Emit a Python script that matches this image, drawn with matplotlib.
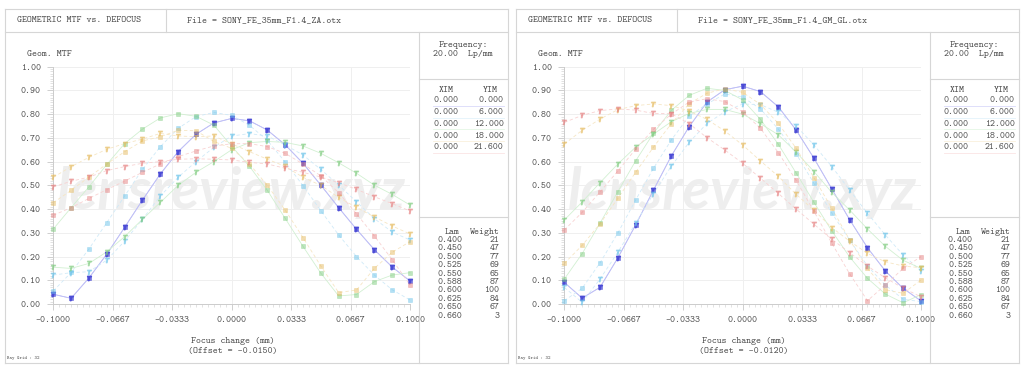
import numpy as np
import matplotlib
matplotlib.use("Agg")
import matplotlib.pyplot as plt
from matplotlib.lines import Line2D
from matplotlib.ticker import FixedLocator, AutoMinorLocator

# ---------------- data ----------------
focus = [-0.10, -0.09, -0.08, -0.07, -0.06, -0.05, -0.04, -0.03, -0.02, -0.01, 0.00,
         0.01, 0.02, 0.03, 0.04, 0.05, 0.06, 0.07, 0.08, 0.09, 0.10]
x_tick_labels = ['-0.1000', '-0.0667', '-0.0333', '0.0000', '0.0333', '0.0667', '0.1000']
y_tick_labels = ['0.00', '0.10', '0.20', '0.30', '0.40', '0.50', '0.60', '0.70', '0.80', '0.90', '1.00']

xim = ['0.000', '0.000', '0.000', '0.000', '0.000']
yim = ['0.000', '6.000', '12.000', '18.000', '21.600']
lam = ['0.400', '0.450', '0.500', '0.525', '0.550', '0.588', '0.600', '0.625', '0.650', '0.660']
weight = ['21', '47', '77', '69', '65', '87', '100', '84', '67', '3']

# ZA lens (left)
za_f1_t = [0.041, 0.024, 0.110, 0.210, 0.323, 0.438, 0.548, 0.642, 0.715, 0.763, 0.782, 0.772, 0.733, 0.671, 0.593, 0.501, 0.406, 0.315, 0.229, 0.156, 0.097]
za_f1_s = [0.041, 0.024, 0.110, 0.210, 0.323, 0.438, 0.548, 0.642, 0.715, 0.763, 0.782, 0.772, 0.733, 0.671, 0.593, 0.501, 0.406, 0.315, 0.229, 0.156, 0.097]
za_f2_t = [0.122, 0.132, 0.136, 0.185, 0.265, 0.357, 0.455, 0.534, 0.600, 0.660, 0.708, 0.718, 0.708, 0.670, 0.628, 0.567, 0.501, 0.431, 0.360, 0.303, 0.270]
za_f2_s = [0.055, 0.133, 0.232, 0.343, 0.455, 0.567, 0.663, 0.740, 0.790, 0.807, 0.795, 0.753, 0.690, 0.598, 0.499, 0.393, 0.291, 0.200, 0.122, 0.060, 0.017]
za_f3_t = [0.155, 0.150, 0.171, 0.220, 0.284, 0.357, 0.428, 0.500, 0.555, 0.600, 0.650, 0.680, 0.685, 0.681, 0.666, 0.635, 0.595, 0.551, 0.501, 0.462, 0.417]
za_f3_s = [0.316, 0.406, 0.494, 0.588, 0.676, 0.737, 0.784, 0.802, 0.791, 0.754, 0.665, 0.580, 0.479, 0.361, 0.243, 0.130, 0.034, 0.040, 0.094, 0.122, 0.132]
za_f4_t = [0.534, 0.579, 0.618, 0.652, 0.676, 0.695, 0.719, 0.708, 0.705, 0.708, 0.675, 0.642, 0.610, 0.580, 0.534, 0.500, 0.449, 0.407, 0.367, 0.329, 0.295]
za_f4_s = [0.427, 0.479, 0.535, 0.590, 0.642, 0.687, 0.705, 0.732, 0.730, 0.685, 0.656, 0.590, 0.500, 0.396, 0.280, 0.160, 0.048, 0.059, 0.150, 0.218, 0.263]
za_f5_t = [0.494, 0.517, 0.535, 0.562, 0.579, 0.593, 0.600, 0.610, 0.612, 0.610, 0.607, 0.597, 0.590, 0.572, 0.555, 0.535, 0.511, 0.483, 0.452, 0.423, 0.392]
za_f5_s = [0.374, 0.406, 0.445, 0.482, 0.518, 0.555, 0.590, 0.621, 0.645, 0.666, 0.675, 0.676, 0.663, 0.635, 0.590, 0.540, 0.469, 0.380, 0.287, 0.187, 0.080]

# GM lens (right)
gm_f1_t = [0.091, 0.025, 0.070, 0.194, 0.333, 0.480, 0.624, 0.747, 0.851, 0.903, 0.918, 0.895, 0.831, 0.733, 0.614, 0.485, 0.355, 0.237, 0.139, 0.066, 0.013]
gm_f1_s = [0.091, 0.025, 0.070, 0.194, 0.333, 0.480, 0.624, 0.747, 0.851, 0.903, 0.918, 0.895, 0.831, 0.733, 0.614, 0.485, 0.355, 0.237, 0.139, 0.066, 0.013]
gm_f2_t = [0.070, 0.007, 0.105, 0.218, 0.340, 0.465, 0.581, 0.681, 0.761, 0.810, 0.843, 0.840, 0.808, 0.750, 0.670, 0.579, 0.480, 0.382, 0.291, 0.206, 0.139]
gm_f2_s = [0.014, 0.066, 0.173, 0.299, 0.438, 0.572, 0.691, 0.792, 0.843, 0.885, 0.872, 0.822, 0.737, 0.633, 0.508, 0.383, 0.270, 0.160, 0.080, 0.020, 0.010]
gm_f3_t = [0.354, 0.430, 0.511, 0.590, 0.661, 0.716, 0.768, 0.803, 0.820, 0.820, 0.800, 0.760, 0.713, 0.640, 0.558, 0.470, 0.396, 0.316, 0.243, 0.184, 0.150]
gm_f3_s = [0.105, 0.212, 0.340, 0.473, 0.603, 0.720, 0.816, 0.879, 0.909, 0.900, 0.860, 0.778, 0.673, 0.552, 0.428, 0.308, 0.198, 0.108, 0.042, 0.005, 0.040]
gm_f4_t = [0.674, 0.732, 0.779, 0.819, 0.836, 0.843, 0.836, 0.813, 0.778, 0.729, 0.670, 0.603, 0.538, 0.462, 0.395, 0.322, 0.265, 0.213, 0.178, 0.160, 0.153]
gm_f4_s = [0.171, 0.247, 0.338, 0.445, 0.555, 0.661, 0.760, 0.844, 0.888, 0.907, 0.892, 0.841, 0.761, 0.656, 0.532, 0.403, 0.270, 0.150, 0.060, 0.045, 0.101]
gm_f5_t = [0.765, 0.795, 0.815, 0.822, 0.817, 0.803, 0.802, 0.760, 0.701, 0.649, 0.593, 0.530, 0.466, 0.400, 0.336, 0.273, 0.216, 0.160, 0.110, 0.067, 0.030]
gm_f5_s = [0.312, 0.386, 0.472, 0.560, 0.653, 0.736, 0.800, 0.851, 0.865, 0.853, 0.810, 0.740, 0.638, 0.521, 0.390, 0.256, 0.127, 0.014, 0.080, 0.150, 0.200]

panels = [
    dict(dx=0, file='File = SONY_FE_35mm_F1.4_ZA.otx', offset='(Offset = -0.0150)',
         t=[za_f1_t, za_f2_t, za_f3_t, za_f4_t, za_f5_t],
         s=[za_f1_s, za_f2_s, za_f3_s, za_f4_s, za_f5_s]),
    dict(dx=511, file='File = SONY_FE_35mm_F1.4_GM_GL.otx', offset='(Offset = -0.0120)',
         t=[gm_f1_t, gm_f2_t, gm_f3_t, gm_f4_t, gm_f5_t],
         s=[gm_f1_s, gm_f2_s, gm_f3_s, gm_f4_s, gm_f5_s]),
]

# ---------------- style ----------------
marker_colors = ['#4a4ad6', '#6cc4ea', '#80cc80', '#e6bc62', '#e68282']
marker_alpha = [0.9, 0.6, 0.6, 0.6, 0.6]
line_colors = ['#c0c0f6', '#d0eaf8', '#d2f0d2', '#f6e6c4', '#f8d2d2']
t_styles = ['-', (0, (4, 3)), '-', (0, (4, 3)), (0, (4, 3))]
s_styles = ['-', (0, (4, 3)), '-', (0, (4, 3)), (0, (4, 3))]

W, H = 1024, 366
fig = plt.figure(figsize=(W / 100, H / 100), dpi=100)
fig.patch.set_facecolor('white')

MONO = 'cmtt10'
TXT = '#4a4a4a'
FRAME = '#d6d6d6'
FS = 6.8


def fx(x):
    return x / W


def fy(y):
    return 1 - y / H


def seg(x0, y0, x1, y1, c=FRAME, lw=0.8, alpha=1.0):
    fig.add_artist(Line2D([fx(x0), fx(x1)], [fy(y0), fy(y1)], color=c, lw=lw, alpha=alpha,
                          transform=fig.transFigure))


def txt(x, y, s, ha='left', size=FS, **kw):
    fig.text(fx(x), fy(y), s, ha=ha, va='center', fontsize=size, family=MONO, color=TXT, **kw)


for p in panels:
    dx = p['dx']
    L, R, T, B = 4.5 + dx, 507.5 + dx, 8.5, 363.0
    seg(L, T, R, T)
    seg(L, B, R, B)
    seg(L, T, L, B)
    seg(R, T, R, B)
    seg(L, 31.5, R, 31.5)
    seg(165.5 + dx, T, 165.5 + dx, 31.5)
    seg(418.5 + dx, 31.5, 418.5 + dx, B)
    seg(418.5 + dx, 78.5, R, 78.5)
    seg(418.5 + dx, 217.0, R, 217.0)

    txt(17 + dx, 20, 'GEOMETRIC MTF vs. DEFOCUS')
    txt(187 + dx, 20, p['file'])
    txt(27 + dx, 54, 'Geom. MTF')
    txt(463 + dx, 45, 'Frequency:', ha='center')
    txt(463 + dx, 54.5, '20.00  Lp/mm', ha='center')

    txt(446.5 + dx, 89.5, 'XIM', ha='center')
    txt(490 + dx, 89.5, 'YIM', ha='center')
    for i, (a, b) in enumerate(zip(xim, yim)):
        yy = 100.5 + i * 11.75
        txt(433 + dx, yy, a)
        txt(503.5 + dx, yy, b, ha='right')
        seg(433 + dx, yy + 5.3, 504 + dx, yy + 5.3, c=line_colors[i], lw=0.6, alpha=0.6)

    txt(452.5 + dx, 231.5, 'Lam', ha='center')
    txt(484.5 + dx, 231.5, 'Weight', ha='center')
    for i, (a, b) in enumerate(zip(lam, weight)):
        yy = 240 + i * 8.4
        txt(462 + dx, yy, a, ha='right')
        txt(499.5 + dx, yy, b, ha='right')

    txt(233 + dx, 341, 'Focus change (mm)', ha='center')
    txt(233 + dx, 351.5, p['offset'], ha='center')
    txt(7 + dx, 358, 'Ray Grid : 32', size=3.4)

    ax = fig.add_axes([fx(53.3 + dx), fy(304), (410 - 53.3) / W, (304 - 66.7) / H])
    ax.set_facecolor('none')
    ax.set_xlim(-0.1, 0.1)
    ax.set_ylim(0, 1)
    ax.xaxis.set_major_locator(FixedLocator(np.linspace(-0.1, 0.1, len(x_tick_labels))))
    ax.set_xticklabels(x_tick_labels)
    ax.xaxis.set_minor_locator(AutoMinorLocator(10))
    ax.yaxis.set_major_locator(FixedLocator(np.linspace(0, 1, len(y_tick_labels))))
    ax.set_yticklabels(y_tick_labels)
    ax.yaxis.set_minor_locator(AutoMinorLocator(10))
    for sp in ['top', 'right']:
        ax.spines[sp].set_visible(False)
    for sp in ['left', 'bottom']:
        ax.spines[sp].set_color('#cccccc')
        ax.spines[sp].set_linewidth(0.7)
    ax.grid(True, which='major', color='#efefef', lw=0.7)
    ax.set_axisbelow(True)
    ax.tick_params(which='major', length=4, width=0.6, color='#c8c8c8', labelsize=FS,
                   labelcolor=TXT)
    ax.tick_params(which='minor', length=2.5, width=0.5, color='#d6d6d6')
    ax.tick_params(axis='y', pad=5)
    ax.tick_params(axis='x', pad=5)
    for lab in ax.get_xticklabels() + ax.get_yticklabels():
        lab.set_family(MONO)

    ax.text(0.5, 0.47, 'lensreview.xyz', transform=ax.transAxes, ha='center', va='center',
            fontsize=41, family='Lato', style='italic', weight='bold', color='#eeeeee',
            zorder=1)

    for i in range(5):
        ax.plot(focus, p['t'][i], color=line_colors[i], lw=0.6, ls=t_styles[i],
                zorder=2, clip_on=False)
        ax.plot(focus, p['s'][i], color=line_colors[i], lw=0.6, ls=s_styles[i],
                zorder=2, clip_on=False)
    for i in range(5):
        ax.plot(focus, p['t'][i], ls='none', marker='$T$', ms=3.2, color=marker_colors[i],
                alpha=marker_alpha[i], zorder=3, clip_on=False)
        ax.plot(focus, p['s'][i], ls='none', marker='s', ms=2.7, mew=0.4, mfc=marker_colors[i],
                mec=marker_colors[i], alpha=marker_alpha[i] * 0.85, zorder=3, clip_on=False)

fig.savefig('out.png', dpi=100, facecolor='white')
